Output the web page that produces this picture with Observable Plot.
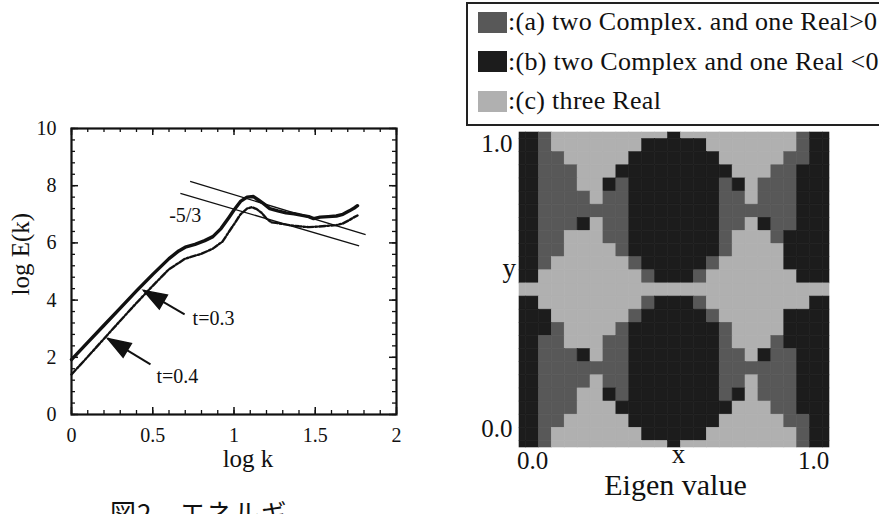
<!DOCTYPE html>
<html><head><meta charset="utf-8">
<script src="https://cdn.jsdelivr.net/npm/d3@7"></script>
<script src="https://cdn.jsdelivr.net/npm/@observablehq/plot@0.6"></script>
<style>
body{margin:0;background:#fff;}
#wrap{position:relative;width:879px;height:514px;overflow:hidden;font-family:"Liberation Serif","DejaVu Serif",serif;color:#111;}
#left,#right{position:absolute;top:0;}
#left{left:0;}
#right{left:439px;}
#legend{position:absolute;left:466px;top:2px;width:411px;height:120px;border:2px solid #222;border-right:1px solid #444;background:#fff;}
.row{position:absolute;left:10px;height:24px;display:flex;align-items:center;font-size:26px;letter-spacing:0.3px;line-height:1;white-space:nowrap;}
.sw{width:29px;height:21px;margin-right:1px;}
#caption{position:absolute;left:110px;top:499px;font-family:"Noto Sans CJK JP",sans-serif;font-size:26px;line-height:1;letter-spacing:1px;white-space:nowrap;}
</style></head>
<body><div id="wrap">
<div id="left"></div>
<div id="right"></div>
<div id="legend"></div>
<div id="caption"></div>
</div>
<script>
// ---------- Left chart data: log E(k) vs log k ----------
const t03_x = [0, 0.1, 0.2, 0.3, 0.4, 0.5, 0.6, 0.66, 0.7, 0.76, 0.82, 0.87, 0.92, 0.97, 1.0, 1.04, 1.08, 1.12, 1.15, 1.18, 1.22, 1.27, 1.32, 1.37, 1.42, 1.46, 1.49, 1.53, 1.58, 1.63, 1.67, 1.71, 1.74, 1.76];
const t03_y = [1.92, 2.52, 3.12, 3.72, 4.32, 4.9, 5.45, 5.72, 5.85, 5.95, 6.08, 6.22, 6.5, 6.9, 7.15, 7.45, 7.6, 7.62, 7.5, 7.38, 7.2, 7.12, 7.05, 7.02, 6.96, 6.92, 6.85, 6.9, 6.92, 6.94, 7.0, 7.12, 7.22, 7.3];
const t04_x = [0, 0.1, 0.2, 0.3, 0.4, 0.5, 0.6, 0.7, 0.8, 0.87, 0.93, 0.97, 1.0, 1.04, 1.08, 1.11, 1.14, 1.17, 1.2, 1.23, 1.28, 1.34, 1.4, 1.46, 1.52, 1.58, 1.63, 1.67, 1.71, 1.74, 1.76];
const t04_y = [1.4, 2.02, 2.65, 3.28, 3.9, 4.5, 5.08, 5.45, 5.62, 5.8, 6.05, 6.4, 6.65, 7.0, 7.2, 7.25, 7.18, 7.05, 6.85, 6.72, 6.68, 6.62, 6.58, 6.55, 6.57, 6.6, 6.62, 6.68, 6.8, 6.9, 6.96];
const slopeUpper = [[0.73, 8.15], [1.81, 6.29]];
const slopeLower = [[0.67, 7.73], [1.77, 5.9]];
const xTickLabels = [0, 0.5, 1, 1.5, 2];
const yTickLabels = [0, 2, 4, 6, 8, 10];
const slopeLabel = {text: "-5/3", x: 0.70, y: 6.96};
const arrowNotes = [
  {text: "t=0.3", lx: 0.874, ly: 3.37, tailX: 0.696, tailY: 3.5, tipX: 0.443, tipY: 4.34},
  {text: "t=0.4", lx: 0.652, ly: 1.33, tailX: 0.486, tailY: 1.75, tipX: 0.222, tipY: 2.66}
];

// ---------- Right chart data: eigenvalue classes on a 25x25 grid (row 0 = y 1.0) ----------
const gridRows = [
  "bbacccccccccbcccccccccabb",
  "bbacccccccbbbbbcccccccabb",
  "bbaacccccbbbbbbbcccccaabb",
  "bbaaacccbbbbbbbbbcccaabbb",
  "bbaaaccbabbbbbbbabcaaabbb",
  "bbaaaacaabbbbbbbaacaaabbb",
  "bbaaaaaaabbbbbbbaaaaaabbb",
  "bbaaabcaabbbbbbbaacbaabbb",
  "bbaacccaabbbbbbbacccabbbb",
  "bbaaccccabbbbbbbaccccbbbb",
  "bbaccccccabbbbbacccccbbbb",
  "bbccccccccabbbacccccccbbb",
  "ccccccccccccccccccccccccc",
  "bbccccccccabbbaccccccccbb",
  "bbbccccccabbbbbacccccbbbb",
  "bbbaccccabbbbbbbaccccbbbb",
  "bbaacccaabbbbbbbacccabbbb",
  "bbaaabcaabbbbbbbaacbaabbb",
  "bbaaaaaaabbbbbbbaaaaaabbb",
  "bbaaaacaabbbbbbbaacaaabbb",
  "bbaaaccbabbbbbbbabcaaabbb",
  "bbaaacccbbbbbbbbbcccaabbb",
  "bbaacccccbbbbbbbcccccaabb",
  "bbacccccccbbbbbcccccccabb",
  "bbacccccccccbcccccccccabb"
];
const categories = ["a", "b", "c"];
const categoryColors = ["#585858", "#1c1c1c", "#b0b0b0"];
const legendLabels = [":(a) two Complex. and one Real>0", ":(b) two Complex and one Real <0", ":(c) three Real"];
const caption = "図2　エネルギ";

// ---------- build left chart ----------
const W1 = 430, H1 = 480, mL = 71, mR = 34, mT = 128, mB = 66;
const innerW = W1 - mL - mR, innerH = H1 - mT - mB;
const sx = d3.scaleLinear([0, 2], [mL, W1 - mR]);
const sy = d3.scaleLinear([0, 10], [H1 - mB, mT]);
const t03 = t03_x.map((x, i) => ({x, y: t03_y[i]}));
const t04 = t04_x.map((x, i) => ({x, y: t04_y[i]}));
const slopes = [
  {x1: slopeUpper[0][0], y1: slopeUpper[0][1], x2: slopeUpper[1][0], y2: slopeUpper[1][1]},
  {x1: slopeLower[0][0], y1: slopeLower[0][1], x2: slopeLower[1][0], y2: slopeLower[1][1]}
];
arrowNotes.forEach(d => {
  const dx = sx(d.tipX) - sx(d.tailX), dy = sy(d.tipY) - sy(d.tailY);
  d.angle = Math.atan2(dx, -dy) * 180 / Math.PI;
});
const headSymbol = {draw(ctx) { ctx.moveTo(0, 0); ctx.lineTo(8, 23); ctx.lineTo(-8, 23); ctx.closePath(); }};
const xMinor = d3.range(0, 2.0001, 0.1);
const yMinor = d3.range(0, 10.0001, 0.4);
const len = 4, lenMaj = 7;

const left = Plot.plot({
  width: W1, height: H1, marginLeft: mL, marginRight: mR, marginTop: mT, marginBottom: mB,
  x: {domain: [0, 2]}, y: {domain: [0, 10]},
  style: {fontFamily: "Liberation Serif", fontSize: "20px", background: "transparent", color: "#111"},
  marks: [
    Plot.axisX({ticks: xTickLabels, tickSize: 0, tickPadding: 13, tickFormat: d => String(d), label: null, fontSize: 20}),
    Plot.axisY({ticks: yTickLabels, tickSize: 0, tickPadding: 15, tickFormat: d => String(d), label: null, fontSize: 20}),
    Plot.text(["log k"], {frameAnchor: "bottom", dx: 14, dy: 52, fontSize: 25}),
    Plot.text(["log E(k)"], {frameAnchor: "left", dx: -51, dy: 24, rotate: -90, fontSize: 25}),
    Plot.tickX(xMinor, {x: d => d, insetTop: innerH - len, strokeWidth: 1.3}),
    Plot.tickX(xMinor, {x: d => d, insetBottom: innerH - len, strokeWidth: 1.3}),
    Plot.tickX(xTickLabels, {x: d => d, insetTop: innerH - lenMaj, strokeWidth: 1.5}),
    Plot.tickX(xTickLabels, {x: d => d, insetBottom: innerH - lenMaj, strokeWidth: 1.5}),
    Plot.tickY(yMinor, {y: d => d, insetRight: innerW - len, strokeWidth: 1.3}),
    Plot.tickY(yMinor, {y: d => d, insetLeft: innerW - len, strokeWidth: 1.3}),
    Plot.tickY(yTickLabels, {y: d => d, insetRight: innerW - lenMaj, strokeWidth: 1.5}),
    Plot.tickY(yTickLabels, {y: d => d, insetLeft: innerW - lenMaj, strokeWidth: 1.5}),
    Plot.frame({stroke: "#111", strokeWidth: 2.2}),
    Plot.link(slopes, {x1: "x1", y1: "y1", x2: "x2", y2: "y2", stroke: "#111", strokeWidth: 1.3}),
    Plot.line(t04, {x: "x", y: "y", stroke: "#111", strokeWidth: 2.4, strokeDasharray: "6,2,2,2"}),
    Plot.line(t03, {x: "x", y: "y", stroke: "#111", strokeWidth: 3.4}),
    Plot.text([slopeLabel], {x: "x", y: "y", text: "text", fontSize: 20}),
    Plot.link(arrowNotes, {x1: "tailX", y1: "tailY", x2: "tipX", y2: "tipY", stroke: "#111", strokeWidth: 2}),
    Plot.dot(arrowNotes, {x: "tipX", y: "tipY", symbol: headSymbol, rotate: "angle", fill: "#111", stroke: "#111", r: 5}),
    Plot.text(arrowNotes, {x: "lx", y: "ly", text: "text", fontSize: 20})
  ]
});
document.getElementById("left").append(left);

// ---------- build right chart ----------
const N = gridRows.length - 1;
const cells = [];
gridRows.forEach((row, r) => {
  [...row].forEach((cat, k) => {
    const xc = k / N, yc = 1 - r / N, h = 0.5 / N;
    cells.push({cat, x1: Math.max(0, xc - h), x2: Math.min(1, xc + h), y1: Math.max(0, yc - h), y2: Math.min(1, yc + h)});
  });
});
const right = Plot.plot({
  width: 440, height: 514, marginLeft: 80, marginRight: 50, marginTop: 132, marginBottom: 67,
  x: {domain: [0, 1]}, y: {domain: [0, 1]},
  color: {domain: categories, range: categoryColors},
  style: {fontFamily: "Liberation Serif", fontSize: "25px", background: "transparent", color: "#111"},
  marks: [
    Plot.rect(cells, {x1: "x1", x2: "x2", y1: "y1", y2: "y2", fill: "cat", stroke: "cat", strokeWidth: 0.6}),
    Plot.axisY({ticks: [1], tickSize: 0, tickPadding: 7, dy: 11, tickFormat: d3.format(".1f"), label: null, fontSize: 25}),
    Plot.axisY({ticks: [0], tickSize: 0, tickPadding: 7, dy: -19, tickFormat: d3.format(".1f"), label: null, fontSize: 25}),
    Plot.axisX({ticks: [0], tickSize: 0, tickPadding: 4, dx: 13, tickFormat: d3.format(".1f"), label: null, fontSize: 25}),
    Plot.axisX({ticks: [1], tickSize: 0, tickPadding: 4, dx: -16, tickFormat: d3.format(".1f"), label: null, fontSize: 25}),
    Plot.text(["y"], {frameAnchor: "left", dx: -17, dy: -22, fontSize: 27}),
    Plot.text(["x"], {frameAnchor: "bottom", dx: 4, dy: 15, fontSize: 27}),
    Plot.text(["Eigen value"], {frameAnchor: "bottom", dx: 1, dy: 47, fontSize: 30})
  ]
});
document.getElementById("right").append(right);

// ---------- legend ----------
const legend = document.getElementById("legend");
legendLabels.forEach((lab, i) => {
  const row = document.createElement("div");
  row.className = "row";
  row.style.top = (6 + i * 39.5) + "px";
  const sw = document.createElement("div");
  sw.className = "sw";
  sw.style.background = categoryColors[i];
  const tx = document.createElement("span");
  tx.textContent = lab;
  row.append(sw, tx);
  legend.append(row);
});
document.getElementById("caption").textContent = caption;
</script>
</body></html>
